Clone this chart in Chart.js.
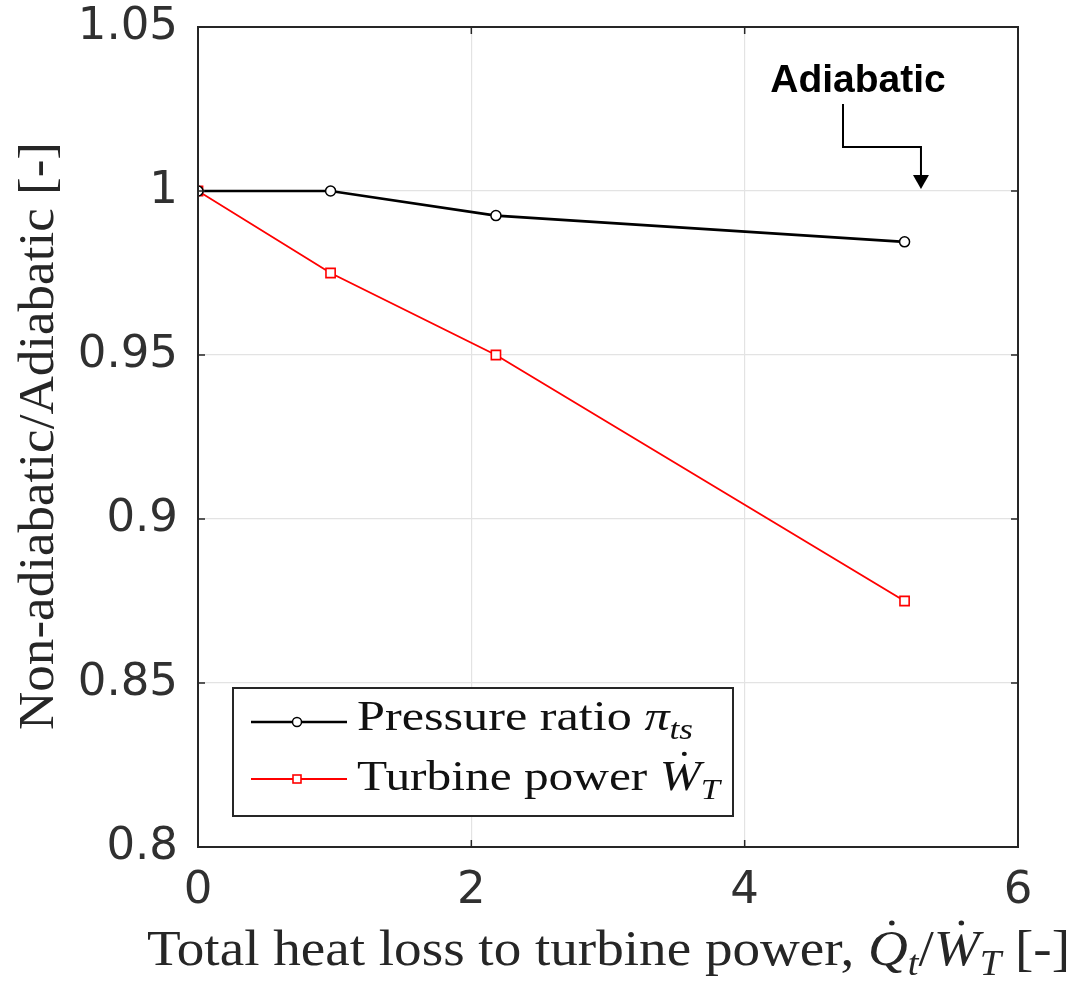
<!DOCTYPE html>
<html><head><meta charset="utf-8">
<script src="https://cdn.jsdelivr.net/npm/chart.js@4.4.1/dist/chart.umd.min.js"></script>
<style>html,body{margin:0;padding:0;background:#fff;} #wrap{width:1075px;height:981px;}</style>
</head><body><div id="wrap"><canvas id="c" width="1075" height="981"></canvas></div>
<script>
// ---- data ----
const heatLossRatio = [0, 0.97, 2.18, 5.17];
const pressureRatio = [1.0, 1.0, 0.9925, 0.9845];
const turbinePower  = [1.0, 0.975, 0.95, 0.875];
const xTickValues = [0, 2, 4, 6];
const yTickValues = [0.8, 0.85, 0.9, 0.95, 1.0, 1.05];
const seriesNames = ['Pressure ratio', 'Turbine power'];
const annotationText = 'Adiabatic';

const AX = '#262626';
const SERIF = '"Liberation Serif", "DejaVu Serif", serif';

function richWidth(ctx, segs, size) {
  let w = 0;
  segs.forEach(s => {
    const fs = s.sub ? size * 0.7 : size;
    ctx.font = (s.italic ? 'italic ' : '') + fs + 'px ' + SERIF;
    s._w = ctx.measureText(s.t).width; s._fs = fs; w += s._w;
  });
  return w;
}
// draws left-aligned rich text starting at x, stretched horizontally to targetW if given
function drawRich(ctx, segs, x, y, size, targetW) {
  const total = richWidth(ctx, segs, size);
  const sx = targetW ? targetW / total : 1;
  ctx.save();
  ctx.translate(x, y);
  ctx.scale(sx, 1);
  ctx.textBaseline = 'alphabetic';
  ctx.textAlign = 'left';
  let cx = 0;
  segs.forEach(s => {
    ctx.font = (s.italic ? 'italic ' : '') + s._fs + 'px ' + SERIF;
    const yy = s.sub ? size * 0.2 : 0;
    ctx.fillText(s.t, cx, yy);
    if (s.dot) {
      ctx.beginPath();
      ctx.arc(cx + s._w * 0.6, -size * 0.84, size * 0.05, 0, Math.PI * 2);
      ctx.fill();
    }
    cx += s._w;
  });
  ctx.restore();
}

const decorPlugin = {
  id: 'decor',
  afterDraw(chart) {
    const ctx = chart.ctx;
    const a = chart.chartArea;
    const xs = chart.scales.x, ys = chart.scales.y;
    ctx.save();
    // box
    ctx.strokeStyle = AX; ctx.lineWidth = 2;
    ctx.strokeRect(a.left, a.top, a.right - a.left, a.bottom - a.top);
    // inner ticks
    ctx.lineWidth = 1.5;
    const tl = 7;
    xTickValues.forEach(v => {
      const px = xs.getPixelForValue(v);
      ctx.beginPath();
      ctx.moveTo(px, a.bottom); ctx.lineTo(px, a.bottom - tl);
      ctx.moveTo(px, a.top); ctx.lineTo(px, a.top + tl);
      ctx.stroke();
    });
    yTickValues.forEach(v => {
      const py = ys.getPixelForValue(v);
      ctx.beginPath();
      ctx.moveTo(a.left, py); ctx.lineTo(a.left + tl, py);
      ctx.moveTo(a.right, py); ctx.lineTo(a.right - tl, py);
      ctx.stroke();
    });

    // axis titles
    ctx.fillStyle = AX;
    const xTitle = [
      {t: 'Total heat loss to turbine power, '},
      {t: 'Q', italic: true, dot: true}, {t: 't', italic: true, sub: true},
      {t: '/'},
      {t: 'W', italic: true, dot: true}, {t: 'T', italic: true, sub: true},
      {t: ' [-]'}
    ];
    drawRich(ctx, xTitle, 147, 965, 50, 923);
    ctx.save();
    ctx.translate(53, 730);
    ctx.rotate(-Math.PI / 2);
    drawRich(ctx, [{t: 'Non-adiabatic/Adiabatic [-]'}], 0, 0, 51, 588);
    ctx.restore();

    // legend
    const lx = 233, ly = 688, lw = 500, lh = 128;
    ctx.fillStyle = '#fff';
    ctx.fillRect(lx, ly, lw, lh);
    ctx.strokeStyle = AX; ctx.lineWidth = 2;
    ctx.strokeRect(lx, ly, lw, lh);
    const rows = [
      {ds: chart.data.datasets[0], y: 722, base: 730, w: 336, segs: [{t: seriesNames[0] + ' '}, {t: 'π', italic: true}, {t: 'ts', italic: true, sub: true}]},
      {ds: chart.data.datasets[1], y: 779, base: 790, w: 363, segs: [{t: seriesNames[1] + ' '}, {t: 'W', italic: true, dot: true}, {t: 'T', italic: true, sub: true}]}
    ];
    rows.forEach(r => {
      ctx.strokeStyle = r.ds.borderColor; ctx.lineWidth = r.ds.borderWidth;
      ctx.beginPath(); ctx.moveTo(251, r.y); ctx.lineTo(347, r.y); ctx.stroke();
      ctx.lineWidth = r.ds.pointBorderWidth;
      ctx.fillStyle = '#fff';
      if (r.ds.pointStyle === 'rect') {
        const s = 8;
        ctx.fillRect(297 - s / 2, r.y - s / 2, s, s);
        ctx.strokeRect(297 - s / 2, r.y - s / 2, s, s);
      } else {
        ctx.beginPath(); ctx.arc(297, r.y, 4.5, 0, Math.PI * 2); ctx.fill(); ctx.stroke();
      }
      ctx.fillStyle = '#111';
      drawRich(ctx, r.segs, 357, r.base, 43, r.w);
    });

    // annotation
    ctx.fillStyle = '#000'; ctx.strokeStyle = '#000'; ctx.lineWidth = 2;
    ctx.font = 'bold 39px "Liberation Sans", Arial, sans-serif';
    ctx.textAlign = 'center'; ctx.textBaseline = 'alphabetic';
    ctx.fillText(annotationText, 858, 92);
    const tipX = xs.getPixelForValue(5.29), tipY = ys.getPixelForValue(1.0) - 2;
    ctx.beginPath();
    ctx.moveTo(843, 104); ctx.lineTo(843, 147); ctx.lineTo(tipX, 147); ctx.lineTo(tipX, tipY - 12);
    ctx.stroke();
    ctx.beginPath();
    ctx.moveTo(tipX - 8, tipY - 14); ctx.lineTo(tipX + 8, tipY - 14); ctx.lineTo(tipX, tipY); ctx.closePath();
    ctx.fill();
    ctx.restore();
  }
};

const mk = (xs, ys) => xs.map((x, i) => ({x: x, y: ys[i]}));

new Chart(document.getElementById('c'), {
  type: 'scatter',
  data: {
    datasets: [
      {label: seriesNames[0], data: mk(heatLossRatio, pressureRatio), showLine: true,
       borderColor: '#000', borderWidth: 2.6, pointStyle: 'circle', pointRadius: 5,
       pointBorderWidth: 1.5, pointBackgroundColor: '#fff', pointBorderColor: '#000'},
      {label: seriesNames[1], data: mk(heatLossRatio, turbinePower), showLine: true,
       borderColor: '#ff0000', borderWidth: 1.9, pointStyle: 'rect', pointRadius: 6.5,
       pointBorderWidth: 1.6, pointBackgroundColor: '#fff', pointBorderColor: '#ff0000'}
    ]
  },
  options: {
    responsive: false, animation: false,
    layout: {padding: {left: 0, right: 57, top: 27, bottom: 0}},
    plugins: {legend: {display: false}, tooltip: {enabled: false}},
    scales: {
      x: {type: 'linear', min: 0, max: 6,
          afterFit(s) { s.height = 134; s.paddingLeft = 0; s.paddingRight = 0; },
          afterBuildTicks(s) { s.ticks = xTickValues.map(v => ({value: v})); },
          ticks: {font: {family: '"DejaVu Sans", sans-serif', size: 45}, color: '#303030', padding: 17, maxRotation: 0,
                  callback: v => String(v)},
          grid: {color: '#e3e3e3', lineWidth: 1.2, drawTicks: false},
          border: {display: false}},
      y: {min: 0.8, max: 1.05,
          afterFit(s) { s.width = 198; s.paddingTop = 0; s.paddingBottom = 0; },
          afterBuildTicks(s) { s.ticks = yTickValues.map(v => ({value: v})); },
          ticks: {font: {family: '"DejaVu Sans", sans-serif', size: 45}, color: '#303030', padding: 20,
                  callback: v => String(parseFloat(Number(v).toFixed(2)))},
          grid: {color: '#e3e3e3', lineWidth: 1.2, drawTicks: false},
          border: {display: false}}
    }
  },
  plugins: [decorPlugin]
});
</script></body></html>
